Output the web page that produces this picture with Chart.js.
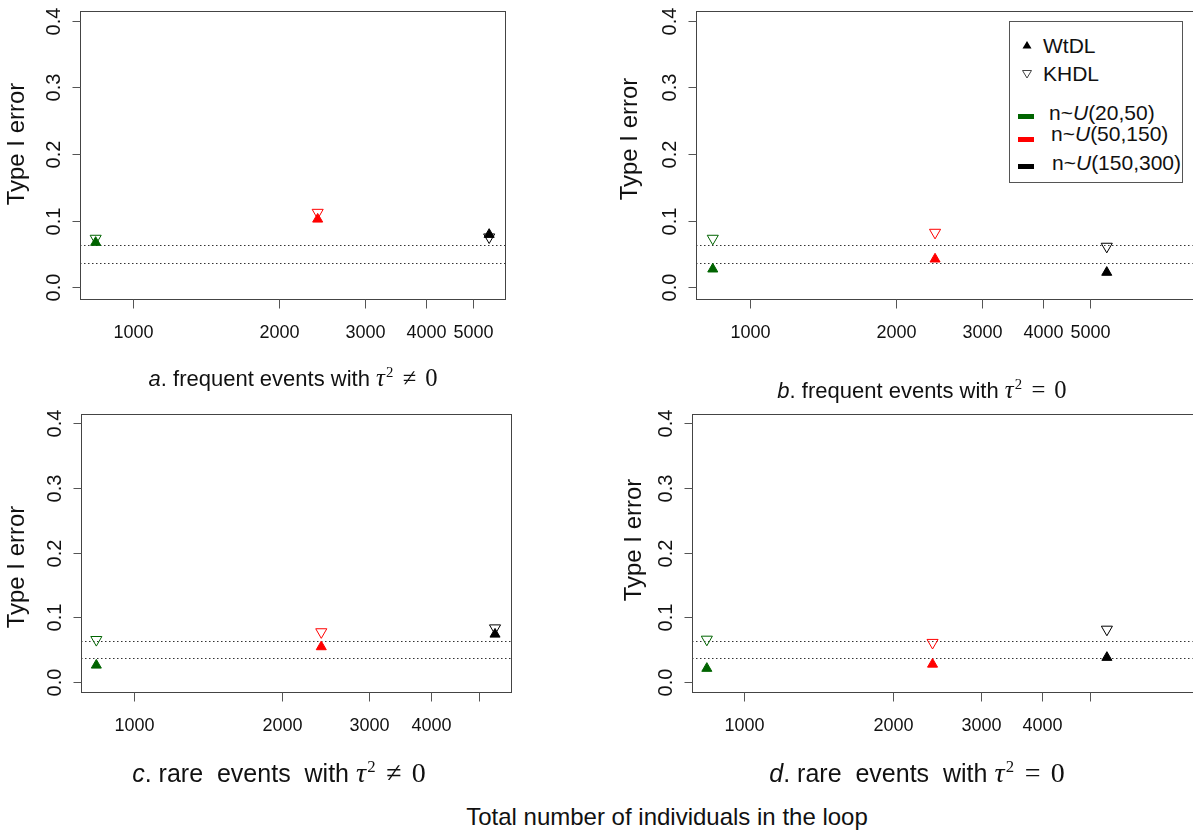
<!DOCTYPE html>
<html>
<head>
<meta charset="utf-8">
<script src="https://cdn.jsdelivr.net/npm/chart.js@4.4.0/dist/chart.umd.min.js"></script>
<style>
  html, body { margin: 0; padding: 0; background: #fff; }
  body { width: 1193px; height: 837px; position: relative; overflow: hidden;
         font-family: "Liberation Sans", Arial, sans-serif; color: #111; }
  canvas { position: absolute; }
  .sub { position: absolute; white-space: nowrap; transform: translate(-50%, -50%); line-height: 1; }
  .math { font-family: "Liberation Serif", "DejaVu Serif", serif; font-size: 1.12em; }
  .math sup { font-size: 0.6em; vertical-align: 0.62em; line-height: 0; margin-left: 0.08em; }
  .op { margin: 0 0.36em 0 0.38em; }
  #legend { position: absolute; left: 1009px; top: 21px; width: 172px; height: 160px; border: 1px solid #555; background: #fff; }
  .lg { position: absolute; font-size: 21px; line-height: 1; transform: translateY(-50%); white-space: nowrap; }
  .sw { position: absolute; width: 16px; height: 5px; }
  svg.mk { position: absolute; overflow: visible; }
</style>
</head>
<body>
<canvas id="panelA" width="600" height="400" style="left:0;top:0"></canvas>
<canvas id="panelB" width="600" height="400" style="left:600px;top:0"></canvas>
<canvas id="panelC" width="600" height="400" style="left:0;top:400px"></canvas>
<canvas id="panelD" width="600" height="400" style="left:600px;top:400px"></canvas>

<div class="sub" style="left:293px;top:378px;font-size:22px"><i>a</i>. frequent events with <span class="math"><i>τ</i><sup>2</sup><span class="op">≠</span>0</span></div>
<div class="sub" style="left:922px;top:390px;font-size:22px"><i>b</i>. frequent events with <span class="math"><i>τ</i><sup>2</sup><span class="op">=</span>0</span></div>
<div class="sub" style="left:279px;top:773px;font-size:25px"><i>c</i>. rare&nbsp; events&nbsp; with <span class="math"><i>τ</i><sup>2</sup><span class="op">≠</span>0</span></div>
<div class="sub" style="left:917px;top:773px;font-size:25px"><i>d</i>. rare&nbsp; events&nbsp; with <span class="math"><i>τ</i><sup>2</sup><span class="op">=</span>0</span></div>
<div class="sub" style="left:667px;top:817px;font-size:24px">Total number of individuals in the loop</div>

<div id="legend"></div>
<svg class="mk" style="left:1022px;top:40px" width="10" height="9"><polygon points="0.5,8.5 9.5,8.5 5,1" fill="#000"/></svg>
<svg class="mk" style="left:1022px;top:70px" width="10" height="9"><polygon points="0.5,0.5 9.5,0.5 5,8" fill="none" stroke="#444" stroke-width="1"/></svg>
<div class="lg" style="left:1043px;top:45px">WtDL</div>
<div class="lg" style="left:1043px;top:73px">KHDL</div>
<div class="sw" style="left:1018px;top:114px;background:#006400"></div>
<div class="sw" style="left:1018px;top:137px;background:#ff0000"></div>
<div class="sw" style="left:1018px;top:164px;background:#000"></div>
<div class="lg" style="left:1049px;top:112px">n~<i>U</i>(20,50)</div>
<div class="lg" style="left:1051px;top:133px">n~<i>U</i>(50,150)</div>
<div class="lg" style="left:1052px;top:162px">n~<i>U</i>(150,300)</div>

<script>
// Data
const groups = ['n~U(20,50)', 'n~U(50,150)', 'n~U(150,300)'];
const totalN = [840, 2400, 5400];

const wtdlA = [0.067, 0.102, 0.079];
const khdlA = [0.073, 0.112, 0.075];
const wtdlB = [0.027, 0.042, 0.022];
const khdlB = [0.073, 0.082, 0.061];
const wtdlC = [0.0255, 0.054, 0.0735];
const khdlC = [0.065, 0.077, 0.083];
const wtdlD = [0.0205, 0.027, 0.0375];
const khdlD = [0.0655, 0.0605, 0.081];

const refLines = [0.0365, 0.0635];

const xTicks = [1000, 2000, 3000, 4000, 5000];
const xLabelsTop = ['1000', '2000', '3000', '4000', '5000'];
const xLabelsBottom = ['1000', '2000', '3000', '4000', ''];
const yTicks = [0, 0.1, 0.2, 0.3, 0.4];
const yLabels = ['0.0', '0.1', '0.2', '0.3', '0.4'];

const groupColors = ['#006400', '#ff0000', '#000000'];

// R-style box, ticks and labels, drawn from the chart's scales
const rAxes = {
    id: 'rAxes',
    beforeDatasetsDraw(chart) {
        const { ctx, chartArea: a, scales: { y } } = chart;
        ctx.save();
        ctx.strokeStyle = '#333';
        ctx.lineWidth = 1;
        ctx.setLineDash([1.5, 2.5]);
        refLines.forEach(v => {
            const py = Math.round(y.getPixelForValue(v)) + 0.5;
            ctx.beginPath();
            ctx.moveTo(a.left, py);
            ctx.lineTo(a.right, py);
            ctx.stroke();
        });
        ctx.restore();
    },
    afterDraw(chart, args, opts) {
        const { ctx, chartArea: a, scales: { x, y } } = chart;
        const L = Math.round(a.left) + 0.5, R = Math.round(a.right) + 0.5;
        const T = Math.round(a.top) + 0.5, B = Math.round(a.bottom) + 0.5;
        ctx.save();
        ctx.strokeStyle = '#444';
        ctx.lineWidth = 1;
        ctx.strokeRect(L, T, R - L, B - T);

        // x ticks
        ctx.strokeStyle = '#555';
        ctx.fillStyle = '#111';
        ctx.font = '18px "Liberation Sans", Arial, sans-serif';
        ctx.textAlign = 'center';
        ctx.textBaseline = 'middle';
        xTicks.forEach((v, i) => {
            const px = Math.round(x.getPixelForValue(v)) + 0.5;
            ctx.beginPath();
            ctx.moveTo(px, B);
            ctx.lineTo(px, B + 9);
            ctx.stroke();
            if (opts.xLabels[i]) ctx.fillText(opts.xLabels[i], px, B + 34);
        });

        // y ticks with rotated labels
        ctx.font = '20px "Liberation Sans", Arial, sans-serif';
        yTicks.forEach((v, i) => {
            const py = Math.round(y.getPixelForValue(v)) + 0.5;
            ctx.beginPath();
            ctx.moveTo(L - 8, py);
            ctx.lineTo(L, py);
            ctx.stroke();
            ctx.save();
            ctx.translate(L - 26, py);
            ctx.rotate(-Math.PI / 2);
            ctx.fillText(yLabels[i], 0, 0);
            ctx.restore();
        });

        // y title
        ctx.font = '24px "Liberation Sans", Arial, sans-serif';
        ctx.translate(opts.titleX, opts.titleY);
        ctx.rotate(-Math.PI / 2);
        ctx.fillText('Type I error', 0, 0);
        ctx.restore();
    }
};

function makePanel(id, wtdl, khdl, cfg) {
    return new Chart(document.getElementById(id), {
        type: 'scatter',
        data: {
            datasets: [{
                label: 'WtDL',
                data: totalN.map((n, i) => ({ x: n, y: wtdl[i] })),
                pointStyle: 'triangle',
                pointRadius: 5.8,
                pointBackgroundColor: groupColors,
                pointBorderColor: groupColors,
                pointBorderWidth: 1
            }, {
                label: 'KHDL',
                data: totalN.map((n, i) => ({ x: n, y: khdl[i] })),
                pointStyle: 'triangle',
                pointRotation: 180,
                pointRadius: 6.4,
                pointBackgroundColor: 'rgba(0,0,0,0)',
                pointBorderColor: groupColors,
                pointBorderWidth: 1
            }]
        },
        options: {
            responsive: false,
            animation: false,
            events: [],
            layout: { padding: cfg.pad },
            scales: {
                x: { type: 'logarithmic', display: false, min: cfg.xMin, max: cfg.xMax },
                y: { type: 'linear', display: false, min: cfg.yMin, max: cfg.yMax }
            },
            plugins: {
                legend: { display: false },
                tooltip: { enabled: false },
                rAxes: { xLabels: cfg.xLabels, titleX: cfg.titleX, titleY: cfg.titleY }
            }
        },
        plugins: [rAxes]
    });
}

makePanel('panelA', wtdlA, khdlA, {
    pad: { left: 80, top: 11, right: 95, bottom: 101 },
    xMin: 780, xMax: 5820, yMin: -0.018, yMax: 0.415,
    xLabels: xLabelsTop, titleX: 17, titleY: 144
});
makePanel('panelB', wtdlB, khdlB, {
    pad: { left: 96, top: 11, right: 4, bottom: 101 },
    xMin: 776, xMax: 8100, yMin: -0.018, yMax: 0.415,
    xLabels: xLabelsTop, titleX: 30, titleY: 139
});
makePanel('panelC', wtdlC, khdlC, {
    pad: { left: 81, top: 14, right: 89, bottom: 108 },
    xMin: 782, xMax: 5818, yMin: -0.016, yMax: 0.4146,
    xLabels: xLabelsBottom, titleX: 17, titleY: 167
});
makePanel('panelD', wtdlD, khdlD, {
    pad: { left: 92, top: 14, right: 4, bottom: 108 },
    xMin: 784, xMax: 8045, yMin: -0.016, yMax: 0.4146,
    xLabels: xLabelsBottom, titleX: 34, titleY: 140
});
</script>
</body>
</html>
